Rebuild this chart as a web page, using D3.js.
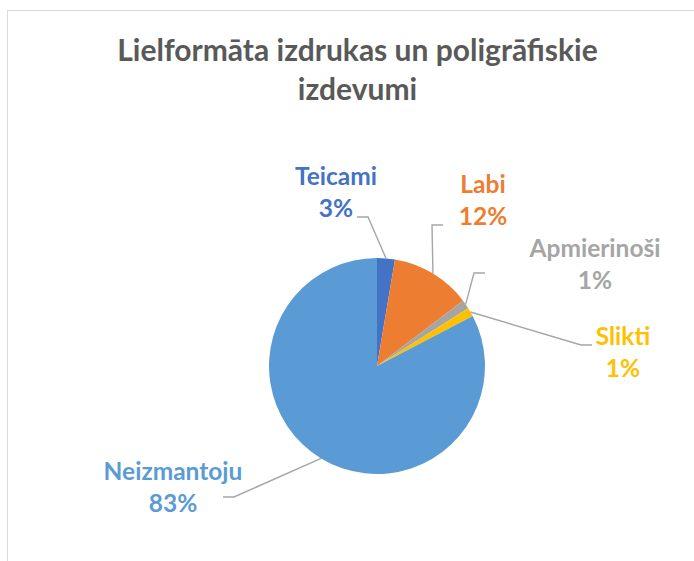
<!DOCTYPE html>
<html>
<head>
<meta charset="utf-8">
<script src="https://cdn.jsdelivr.net/npm/d3@7"></script>
<style>
    body { margin: 0; background: #fff; }
    text { font-family: Lato, "Open Sans", sans-serif; font-weight: bold; }
</style>
</head>
<body>
<div id="chart"></div>
<script>
// data (answer counts, shown as rounded %)
let categories = ["Teicami", "Labi", "Apmierinoši", "Slikti", "Neizmantoju"];
let counts = [2, 9, 1, 1, 62];
let colors = ["#4472C4", "#ED7D31", "#A5A5A5", "#FFC000", "#5B9BD5"];
let titleLines = ["Lielformāta izdrukas un poligrāfiskie", "izdevumi"];

document.addEventListener("DOMContentLoaded", () => {
    drawPie();
});

let drawPie = () => {
    var width = 694;
    var height = 561;
    var cx = 377, cy = 366, radius = 108;

    // label spots and leader line ends (layout only)
    var labelLayout = {
        "Teicami":     { x: 336, y: 185, lx: 357, ly: 217 },
        "Labi":        { x: 483, y: 193, lx: 443, ly: 225 },
        "Apmierinoši": { x: 595, y: 257, lx: 485, ly: 273 },
        "Slikti":      { x: 623, y: 345, lx: 592, ly: 345 },
        "Neizmantoju": { x: 173, y: 480, lx: 223, ly: 497 }
    };

    var svg = d3.select("#chart")
        .append("svg")
        .attr("width", width)
        .attr("height", height);

    // chart border
    svg.append("rect")
        .attr("x", 7.5).attr("y", 10.5)
        .attr("width", width + 20).attr("height", height + 20)
        .attr("fill", "none")
        .attr("stroke", "#D9D9D9")
        .attr("stroke-width", 1);

    // title
    svg.append("text")
        .attr("text-anchor", "middle")
        .style("font-size", "30px")
        .style("fill", "#595959")
        .selectAll("tspan")
        .data(titleLines)
        .enter()
        .append("tspan")
        .attr("x", 357.5)
        .attr("y", (d, i) => 61 + i * 39)
        .text(d => d);

    var total = d3.sum(counts);
    var data = categories.map((c, i) => ({ name: c, value: counts[i], color: colors[i] }));

    var pie = d3.pie().sort(null).value(d => d.value);
    var arcs = pie(data);
    var arc = d3.arc().innerRadius(0).outerRadius(radius);

    var g = svg.append("g").attr("transform", "translate(" + cx + "," + cy + ")");

    g.selectAll("path")
        .data(arcs)
        .enter()
        .append("path")
        .attr("d", arc)
        .attr("fill", d => d.data.color);

    // leader lines: pie edge -> elbow -> label
    var edgePoint = (d) => {
        var a = (d.startAngle + d.endAngle) / 2;
        return [cx + radius * Math.sin(a), cy - radius * Math.cos(a)];
    };

    svg.append("g")
        .selectAll("polyline")
        .data(arcs)
        .enter()
        .append("polyline")
        .attr("points", d => {
            var p = edgePoint(d);
            var l = labelLayout[d.data.name];
            var elbowX = l.lx + (p[0] > l.lx ? 11 : -11);
            return [p, [elbowX, l.ly], [l.lx, l.ly]].map(q => q.join(",")).join(" ");
        })
        .attr("fill", "none")
        .attr("stroke", "#A6A6A6")
        .attr("stroke-width", 1.4);

    // labels
    var labels = svg.append("g")
        .selectAll("text")
        .data(arcs)
        .enter()
        .append("text")
        .attr("text-anchor", "middle")
        .style("font-size", "24.5px")
        .style("fill", d => d.data.color);

    labels.append("tspan")
        .attr("x", d => labelLayout[d.data.name].x)
        .attr("y", d => labelLayout[d.data.name].y)
        .text(d => d.data.name);

    labels.append("tspan")
        .attr("x", d => labelLayout[d.data.name].x)
        .attr("y", d => labelLayout[d.data.name].y + 32)
        .text(d => Math.round(d.data.value / total * 100) + "%");
}
</script>
</body>
</html>
